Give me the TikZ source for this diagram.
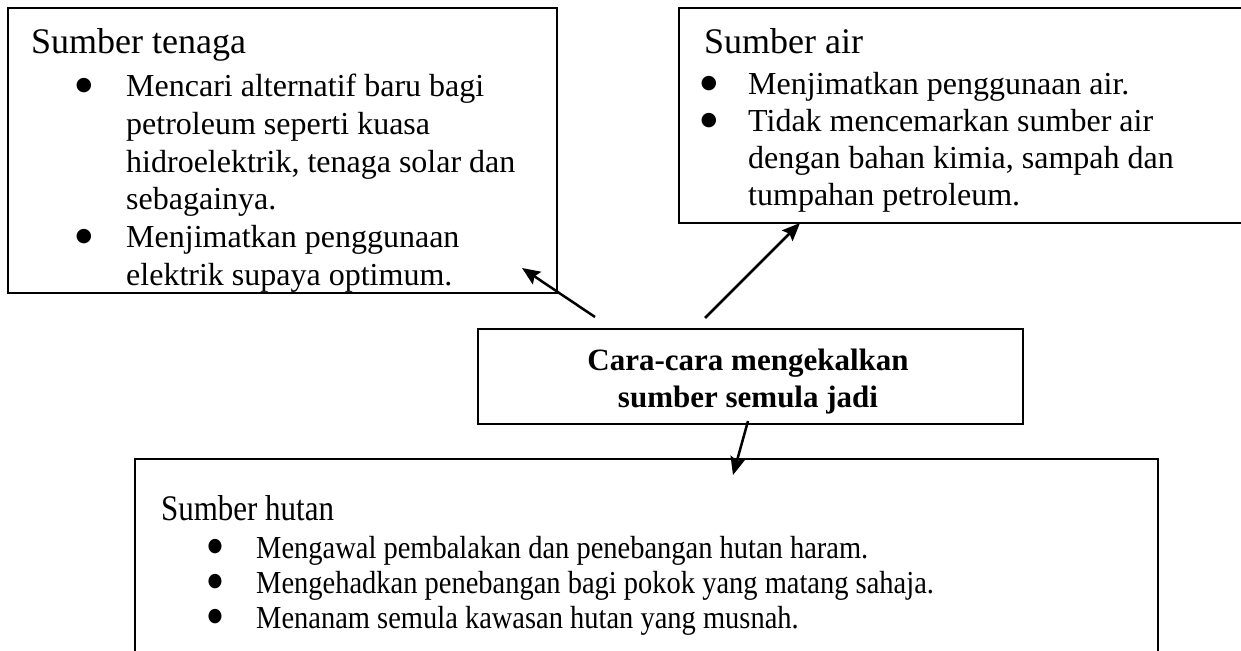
\documentclass[tikz,border=0pt]{standalone}
\usepackage{fontspec}
\setmainfont{Liberation Serif}
\newfontfamily\condfont[FakeStretch=0.89]{Liberation Serif}
\newfontfamily\condhead[FakeStretch=0.86]{Liberation Serif}
\newfontfamily\dejavu{DejaVu Sans}
\usetikzlibrary{arrows.meta}
\tikzset{
  box/.style={draw=black, line width=2pt, inner sep=0pt, anchor=north west},
  head/.style={inner sep=0pt, anchor=base west, font=\fontsize{36}{40}\selectfont},
  body/.style={inner sep=0pt, anchor=base west, font=\fontsize{32}{37}\selectfont},
  bul/.style={inner sep=0pt, anchor=center, font=\dejavu\fontsize{19}{20}\selectfont},
  cbul/.style={inner sep=0pt, anchor=center, xscale=0.9, font=\dejavu\fontsize{19}{20}\selectfont},
  chead/.style={inner sep=0pt, anchor=base west, font=\condhead\fontsize{36}{40}\selectfont},
  cbody/.style={inner sep=0pt, anchor=base west, font=\condfont\fontsize{32}{37}\selectfont},
  title/.style={inner sep=0pt, anchor=base, font=\bfseries\fontsize{31}{37}\selectfont},
  conn/.style={line width=2.5pt, -{Stealth[length=18pt,width=15pt,inset=3pt]}}
}
\begin{document}
\begin{tikzpicture}[x=1pt,y=-1pt]
\useasboundingbox (0,0) rectangle (1241,650);
% boxes
\node[box, minimum width=549pt, minimum height=285pt] (tenaga) at (7,7) {};
\node[box, minimum width=580pt, minimum height=215pt] (air) at (678,7) {};
\node[box, minimum width=545pt, minimum height=95pt] (cara) at (477,328) {};
\node[box, minimum width=1023pt, minimum height=220pt] (hutan) at (134,458) {};
% Sumber tenaga
\node[head] (h1) at (31,54) {Sumber tenaga};
\node[bul] (b1a) at (84,86) {●};
\node[body] (t1a) at (126,97) {Mencari alternatif baru bagi};
\node[body] (t1b) at (126,134.6) {petroleum seperti kuasa};
\node[body] (t1c) at (126,172.2) {hidroelektrik, tenaga solar dan};
\node[body] (t1d) at (126,209.8) {sebagainya.};
\node[bul] (b1b) at (84,236.4) {●};
\node[body] (t1e) at (126,247.4) {Menjimatkan penggunaan};
\node[body] (t1f) at (126,285) {elektrik supaya optimum.};
% Sumber air
\node[head] (h2) at (704,54) {Sumber air};
\node[bul] (b2a) at (709,84) {●};
\node[body] (t2a) at (748,95) {Menjimatkan penggunaan air.};
\node[bul] (b2b) at (709,120.7) {●};
\node[body] (t2b) at (748,131.7) {Tidak mencemarkan sumber air};
\node[body] (t2c) at (748,168.4) {dengan bahan kimia, sampah dan};
\node[body] (t2d) at (748,205.1) {tumpahan petroleum.};
% central
\node[title] (c1) at (748,370) {Cara-cara mengekalkan};
\node[title] (c2) at (748,407) {sumber semula jadi};
% Sumber hutan
\node[chead] (h3) at (161,520) {Sumber hutan};
\node[cbul] (b3a) at (215,547) {●};
\node[cbody] (t3a) at (256,558) {Mengawal pembalakan dan penebangan hutan haram.};
\node[cbul] (b3b) at (215,582) {●};
\node[cbody] (t3b) at (256,593) {Mengehadkan penebangan bagi pokok yang matang sahaja.};
\node[cbul] (b3c) at (215,617) {●};
\node[cbody] (t3c) at (256,628) {Menanam semula kawasan hutan yang musnah.};
% connectors
\coordinate (s1) at (595,317);
\coordinate (e1) at (522,268);
\coordinate (s2) at (705,318);
\coordinate (e2) at (800,223);
\coordinate (s3) at (748,421);
\coordinate (e3) at (733,475);
\draw[conn] (s1) -- (e1);
\draw[conn] (s2) -- (e2);
\draw[conn] (s3) -- (e3);
\end{tikzpicture}
\end{document}
